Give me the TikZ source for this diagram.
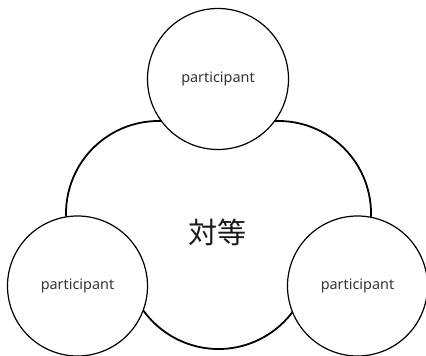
\documentclass[tikz,border=0pt]{standalone}
\usepackage{fontspec}
\usetikzlibrary{calc}
\setmainfont{Noto Sans}
\newfontfamily\cjkfont{Noto Sans CJK JP}
\definecolor{txtgray}{HTML}{333333}
\begin{document}
\begin{tikzpicture}[x=1pt,y=1pt,
  bigline/.style={draw=black,line width=1.8pt},
  member/.style={circle,draw=black,fill=white,line width=1.2pt,minimum size=140pt,inner sep=0pt,
    font=\fontsize{14.4}{16}\selectfont,text=txtgray}]
\useasboundingbox (0,0) rectangle (426,356);
% centres of the three rounding arcs of the big shape
\coordinate (c1) at (158.5,142.5);
\coordinate (c2) at (278.5,142.5);
\coordinate (c3) at (218.5,99.5);
\draw[bigline] (158.5,235) arc[start angle=90,end angle=205,radius=92.5]
  -- ($(c3)+(200:92.5)$) arc[start angle=200,end angle=340,radius=92.5]
  -- ($(c2)+(-25:92.5)$) arc[start angle=-25,end angle=90,radius=92.5] -- cycle;
\node[font=\cjkfont\fontsize{29}{32}\selectfont,text=black!90] (peer) at (217.5,124) {対等};
\node[member,minimum size=141pt] (top) at (218,277) {participant};
\node[member] (left) at (77.5,70) {participant};
\node[member] (right) at (357.5,70) {participant};
\end{tikzpicture}
\end{document}
